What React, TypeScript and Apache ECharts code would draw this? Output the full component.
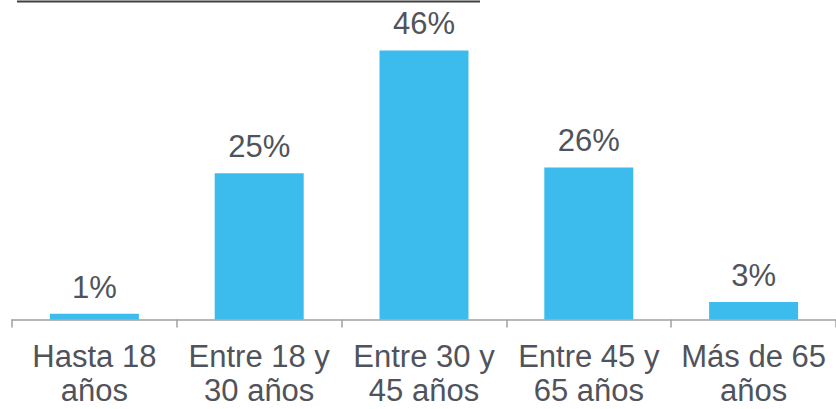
import React, { useEffect, useRef } from "react";
import * as echarts from "echarts";

const categories = ["Hasta 18\naños", "Entre 18 y\n30 años", "Entre 30 y\n45 años", "Entre 45 y\n65 años", "Más de 65\naños"];
const values = [1, 25, 46, 26, 3];

export default function App() {
  const ref = useRef<HTMLDivElement>(null);
  useEffect(() => {
    document.body.style.margin = "0";
    const chart = echarts.init(ref.current!, null, { renderer: "svg" });
    chart.setOption({
      animation: false,
      grid: { left: 12, right: -1, top: 27, bottom: 89.5, containLabel: false },
      xAxis: {
        type: "category",
        data: categories,
        axisLine: { lineStyle: { color: "#a0a0a0", width: 1.5 } },
        axisTick: { show: true, length: 8, lineStyle: { color: "#a0a0a0", width: 1.5 } },
        axisLabel: {
          color: "#50535B",
          fontFamily: "Liberation Sans, Arial, sans-serif",
          fontSize: 31,
          lineHeight: 34,
          margin: 20,
          interval: 0,
        },
      },
      yAxis: { type: "value", min: 0, max: 50, show: false, splitLine: { show: false } },
      graphic: [
        {
          type: "line",
          shape: { x1: 17, y1: 1.5, x2: 480, y2: 1.5 },
          style: { stroke: "#404040", lineWidth: 2 },
        },
      ],
      series: [
        {
          type: "bar",
          data: values,
          barWidth: "54%",
          itemStyle: { color: "#3BBCEC" },
          label: {
            show: true,
            position: "top",
            distance: 11,
            formatter: "{c}%",
            color: "#50535B",
            fontFamily: "Liberation Sans, Arial, sans-serif",
            fontSize: 31,
          },
        },
      ],
    });
    return () => chart.dispose();
  }, []);
  return <div ref={ref} style={{ width: 836, height: 409 }} />;
}
